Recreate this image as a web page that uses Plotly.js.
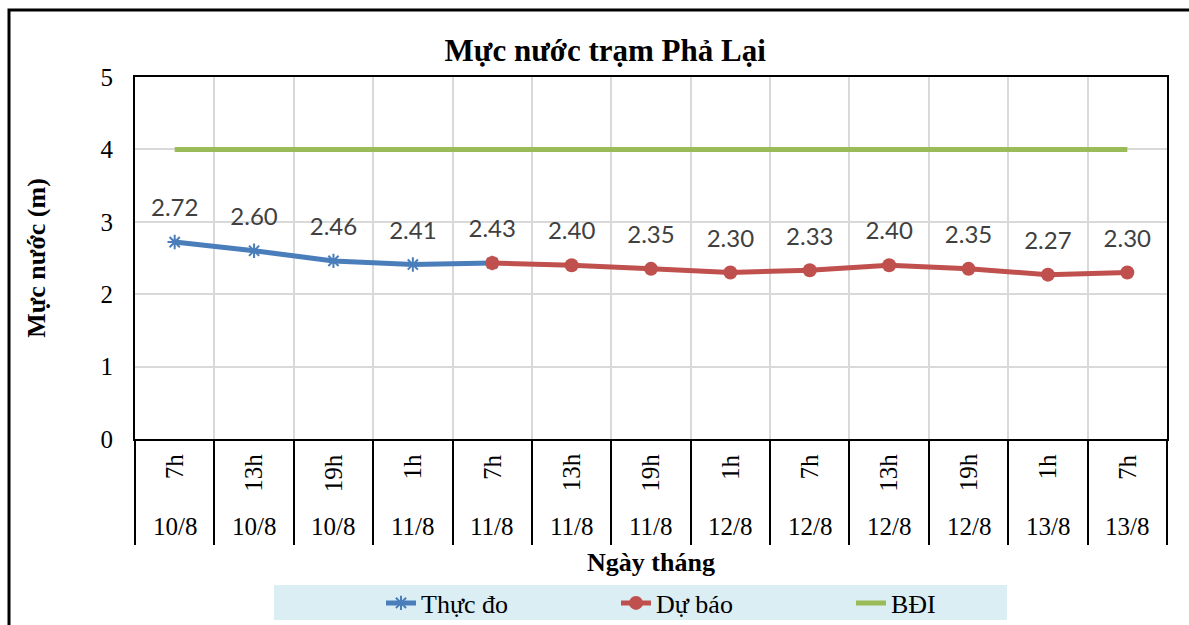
<!DOCTYPE html>
<html>
<head>
<meta charset="utf-8">
<script src="https://cdn.plot.ly/plotly-3.0.1.min.js"></script>
<style>html,body{margin:0;padding:0;background:#fff;}#chart{width:1189px;height:625px;}</style>
</head>
<body>
<div id="chart"></div>
<script>
// ---- data ----
var hours = ["7h","13h","19h","1h","7h","13h","19h","1h","7h","13h","19h","1h","7h"];
var dates = ["10/8","10/8","10/8","11/8","11/8","11/8","11/8","12/8","12/8","12/8","12/8","13/8","13/8"];
var observedIdx = [0,1,2,3,4];
var observed = [2.72, 2.60, 2.46, 2.41, 2.43];
var forecastIdx = [4,5,6,7,8,9,10,11,12];
var forecast = [2.43, 2.40, 2.35, 2.30, 2.33, 2.40, 2.35, 2.27, 2.30];
var alarmLevel = 4; // BĐI
var yTicks = [0,1,2,3,4,5];

var cats = hours.map(function(h,i){return h+" "+dates[i];});
function pick(idx){return idx.map(function(i){return cats[i];});}

// data labels: observed values, then forecast values after the shared point
var labelX = pick(observedIdx).concat(pick(forecastIdx.slice(1)));
var labelY = observed.concat(forecast.slice(1));

var serif = "Liberation Serif, Times New Roman, serif";
var labelFont = {family:"Lato, Noto Sans, sans-serif", size:24, color:"#404040"};

var traces = [
  {
    name:"Thực đo", x:pick(observedIdx), y:observed, type:"scatter", mode:"lines+markers",
    line:{color:"#4A7EBB", width:5},
    marker:{symbol:"asterisk-open", size:12, color:"#4A7EBB", line:{width:2, color:"#4A7EBB"}}
  },
  {
    name:"Dự báo", x:pick(forecastIdx), y:forecast, type:"scatter", mode:"lines+markers",
    line:{color:"#C0504D", width:5},
    marker:{symbol:"circle", size:14, color:"#C0504D"}
  },
  {
    name:"BĐI", x:[cats[0], cats[cats.length-1]], y:[alarmLevel, alarmLevel], type:"scatter", mode:"lines",
    line:{color:"#9BBB59", width:5}
  },
  {
    name:"labels", showlegend:false, x:labelX, y:labelY, type:"scatter", mode:"markers+text",
    marker:{size:30, color:"rgba(0,0,0,0)"},
    text:labelY.map(function(v){return v.toFixed(2);}),
    textposition:"top center", textfont:labelFont, cliponaxis:false
  }
];

var annotations = [];
hours.forEach(function(h,i){
  annotations.push({xref:"x", yref:"paper", x:cats[i], y:-0.035, text:h, showarrow:false,
    textangle:-90, yanchor:"top", xanchor:"center", font:{family:serif, size:25, color:"#000"}});
  annotations.push({xref:"x", yref:"paper", x:cats[i], y:-0.243, text:dates[i], showarrow:false,
    yanchor:"middle", xanchor:"center", font:{family:serif, size:25, color:"#000"}});
});

var L=135, R=22, T=77, B=186, W=1189, H=625;
var pw=W-L-R, ph=H-T-B;
function px2x(px){return (px-L)/pw;}
function py2y(py){return (H-B-py)/ph;}

var shapes = [
  {type:"rect", xref:"paper", yref:"paper", x0:px2x(9), x1:px2x(1300), y0:py2y(10), y1:py2y(700),
   line:{color:"#000", width:3}, fillcolor:"rgba(0,0,0,0)", layer:"below"},
  {type:"rect", xref:"paper", yref:"paper", x0:px2x(274), x1:px2x(1007), y0:py2y(585), y1:py2y(620),
   line:{width:0}, fillcolor:"#DBEEF4", layer:"below"}
];

var layout = {
  width:W, height:H,
  margin:{l:L, r:R, t:T, b:B, autoexpand:false},
  paper_bgcolor:"#fff", plot_bgcolor:"#fff",
  title:{text:"<b>Mực nước trạm Phả Lại</b>", xref:"container", yref:"container", x:0.509, xanchor:"center",
    y:1-50/625, yanchor:"middle", font:{family:serif, size:31, color:"#000"}},
  showlegend:true,
  legend:{orientation:"h", xref:"container", yref:"container", x:381/1189, xanchor:"left",
    y:1-603/625, yanchor:"middle", entrywidth:190, entrywidthmode:"pixels",
    bgcolor:"rgba(0,0,0,0)", font:{family:serif, size:26, color:"#000"}, traceorder:"normal"},
  xaxis:{type:"category", categoryorder:"array", categoryarray:cats, range:[-0.5, cats.length-0.5],
    tickson:"boundaries", showticklabels:false, ticks:"outside", ticklen:104, tickwidth:2, tickcolor:"#000",
    showgrid:true, gridcolor:"#D9D9D9", gridwidth:2,
    showline:true, linecolor:"#000", linewidth:2, mirror:true, zeroline:false, fixedrange:true,
    title:{text:"<b>Ngày tháng</b>", standoff:113, font:{family:serif, size:26, color:"#000"}}},
  yaxis:{range:[0,5], tickvals:yTicks, ticks:"", ticklabelstandoff:15,
    tickfont:{family:serif, size:25, color:"#000"},
    showgrid:true, gridcolor:"#D9D9D9", gridwidth:2,
    showline:true, linecolor:"#000", linewidth:2, mirror:true, zeroline:false, fixedrange:true,
    title:{text:"<b>Mực nước (m)</b>", standoff:47, font:{family:serif, size:26, color:"#000"}}},
  annotations:annotations,
  shapes:shapes
};

Plotly.newPlot("chart", traces, layout, {displayModeBar:false, staticPlot:true});
</script>
</body>
</html>
